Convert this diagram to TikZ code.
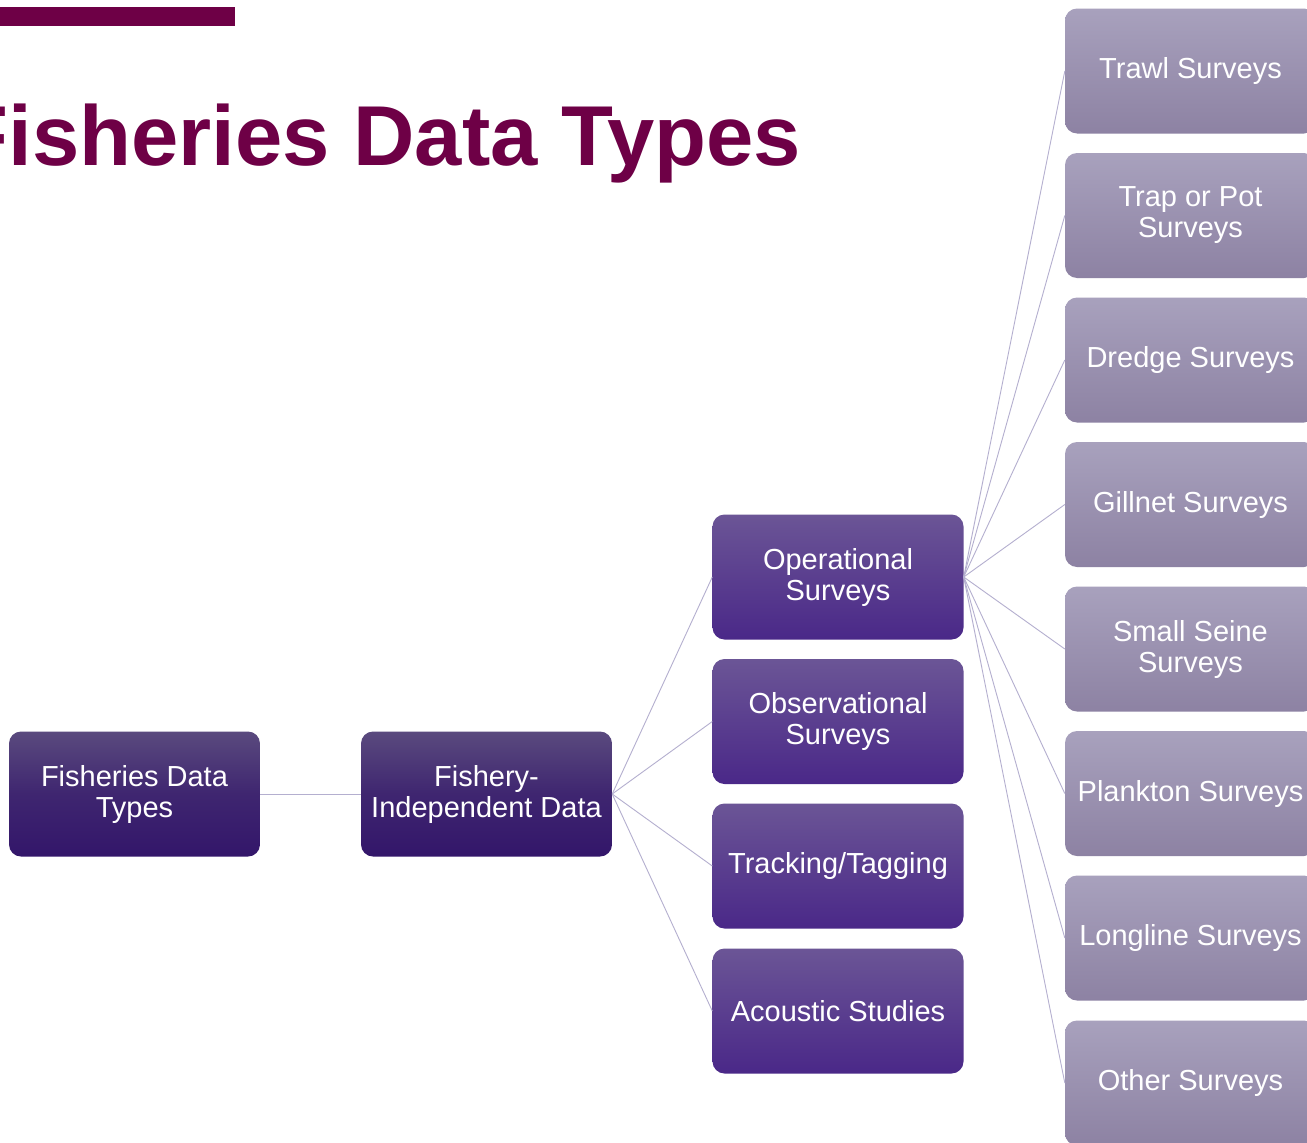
\documentclass[tikz,border=0pt]{standalone}
\usepackage{fontspec}
\setmainfont{Liberation Sans}
\definecolor{titlecol}{HTML}{6E0046}
\definecolor{darktop}{HTML}{5A4A7E}
\definecolor{darkbot}{HTML}{33166A}
\definecolor{midtop}{HTML}{6B5596}
\definecolor{midbot}{HTML}{4A2888}
\definecolor{lighttop}{HTML}{A8A1BD}
\definecolor{lightbot}{HTML}{8D82A3}
\definecolor{linkcol}{HTML}{B4AFCF}
\tikzset{
  boxbase/.style={rounded corners=12pt, minimum width=251pt, minimum height=125pt,
    text=white, align=center, inner sep=0pt, font=\fontsize{29}{31}\selectfont},
  darkbox/.style={boxbase, top color=darktop, bottom color=darkbot, middle color=darkbot!70!darktop},
  midbox/.style={boxbase, top color=midtop, bottom color=midbot},
  lightbox/.style={boxbase, top color=lighttop, bottom color=lightbot},
  link/.style={draw=linkcol, line width=0.9pt}
}
\begin{document}
\begin{tikzpicture}[x=1pt,y=-1pt]
\useasboundingbox[fill=white] (0,0) rectangle (1307,1143);
% title
\fill[titlecol] (0,7) rectangle (235,26);
\node[anchor=base east, inner sep=0pt, text=titlecol, font=\fontsize{85}{90}\selectfont\bfseries] (title) at (801,165) {Fisheries Data Types};
% level 1 and 2
\node[darkbox] (fdt) at (134.5,794) {Fisheries Data\\Types};
\node[darkbox] (fid) at (486.5,794) {Fishery-\\Independent Data};
% level 3
\node[midbox] (ops) at (838,577) {Operational\\Surveys};
\node[midbox] (obs) at (838,721.5) {Observational\\Surveys};
\node[midbox] (trk) at (838,866) {Tracking/Tagging};
\node[midbox] (aco) at (838,1011) {Acoustic Studies};
% level 4
\node[lightbox] (trawl) at (1190.5,71) {Trawl Surveys};
\node[lightbox] (trap) at (1190.5,215.5) {Trap or Pot\\Surveys};
\node[lightbox] (dredge) at (1190.5,360) {Dredge Surveys};
\node[lightbox] (gill) at (1190.5,504.5) {Gillnet Surveys};
\node[lightbox] (seine) at (1190.5,649) {Small Seine\\Surveys};
\node[lightbox] (plank) at (1190.5,793.5) {Plankton Surveys};
\node[lightbox] (long) at (1190.5,938) {Longline Surveys};
\node[lightbox] (other) at (1190.5,1083) {Other Surveys};
% connectors
\draw[link] (fdt.east) -- (fid.west);
\foreach \c in {ops,obs,trk,aco} \draw[link] (fid.east) -- (\c.west);
\foreach \c in {trawl,trap,dredge,gill,seine,plank,long,other} \draw[link] (ops.east) -- (\c.west);
\end{tikzpicture}
\end{document}
